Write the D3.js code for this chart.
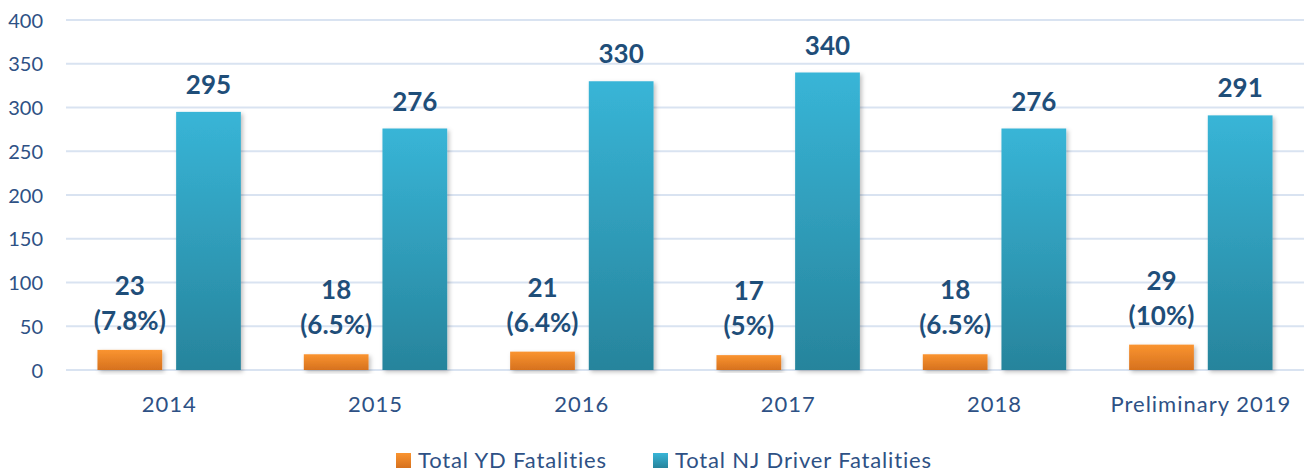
<!DOCTYPE html>
<html>
<head>
<meta charset="utf-8">
<script src="https://cdn.jsdelivr.net/npm/d3@7"></script>
<style>
  html, body { margin: 0; padding: 0; background: #ffffff; }
  svg { display: block; }
  text { font-family: Lato, "Open Sans", sans-serif; }
</style>
</head>
<body>
<svg id="chart" width="1312" height="472"></svg>
<script>
// Young driver (YD) fatalities vs. all NJ driver fatalities, by year
const categories = ["2014", "2015", "2016", "2017", "2018", "Preliminary 2019"];
const seriesNames = ["Total YD Fatalities", "Total NJ Driver Fatalities"];
const ydFatalities = [23, 18, 21, 17, 18, 29];
const ydShare = ["(7.8%)", "(6.5%)", "(6.4%)", "(5%)", "(6.5%)", "(10%)"];
const njFatalities = [295, 276, 330, 340, 276, 291];
const yTicks = [0, 50, 100, 150, 200, 250, 300, 350, 400];

const svg = d3.select("#chart");
const plotLeft = 66, plotRight = 1304, plotTop = 20, plotBottom = 370;

const labelColor = "#1F4E79";
const tickColor = "#2E5185";

// gradients and shadow
const defs = svg.append("defs");
function grad(id, c0, c1) {
  const g = defs.append("linearGradient").attr("id", id)
    .attr("x1", 0).attr("y1", 0).attr("x2", 0).attr("y2", 1);
  g.append("stop").attr("offset", "0%").attr("stop-color", c0);
  g.append("stop").attr("offset", "100%").attr("stop-color", c1);
}
grad("gOrange", "#FA9430", "#D6711E");
grad("gBlue", "#38B5D7", "#27849C");
const f = defs.append("filter").attr("id", "shadow")
  .attr("x", "-10%").attr("y", "-10%").attr("width", "130%").attr("height", "130%");
f.append("feDropShadow").attr("dx", 2).attr("dy", 2).attr("stdDeviation", 2)
  .attr("flood-color", "#000").attr("flood-opacity", 0.25);

const x0 = d3.scaleBand().domain(categories).range([plotLeft, plotRight]).padding(0);
const x1 = d3.scaleBand().domain(seriesNames).range([0, x0.bandwidth()])
  .paddingInner(0.177).paddingOuter(0.4);
const y = d3.scaleLinear().domain([0, 400]).range([plotBottom, plotTop]);

// horizontal gridlines
svg.append("g").selectAll("line").data(yTicks).join("line")
  .attr("x1", plotLeft).attr("x2", plotRight)
  .attr("y1", d => y(d)).attr("y2", d => y(d))
  .attr("stroke", "#D9E3F1").attr("stroke-width", 2);

// y axis labels
const yAxis = d3.axisLeft(y).tickValues(yTicks).tickSize(0).tickPadding(0);
const gy = svg.append("g").attr("transform", "translate(43,0)").call(yAxis);
gy.select(".domain").remove();
gy.selectAll("text").attr("fill", tickColor).attr("font-size", 20)
  .attr("font-family", "Lato, sans-serif").attr("dy", "0.35em");

// x axis labels
const xAxis = d3.axisBottom(x0).tickSize(0).tickPadding(0);
const gx = svg.append("g").attr("transform", "translate(0,396)").call(xAxis);
gx.select(".domain").remove();
gx.selectAll("text").attr("fill", tickColor).attr("font-size", 22)
  .attr("letter-spacing", 1)
  .attr("font-family", "Lato, sans-serif").attr("dy", "0.72em");

// bars
const rows = categories.map((c, i) => ({
  cat: c, yd: ydFatalities[i], share: ydShare[i], nj: njFatalities[i]
}));

const groups = svg.append("g").selectAll("g").data(rows).join("g")
  .attr("transform", d => `translate(${x0(d.cat)},0)`);

groups.append("rect")
  .attr("x", x1(seriesNames[0])).attr("width", x1.bandwidth())
  .attr("y", d => y(d.yd)).attr("height", d => y(0) - y(d.yd))
  .attr("fill", "url(#gOrange)").attr("filter", "url(#shadow)");

groups.append("rect")
  .attr("x", x1(seriesNames[1])).attr("width", x1.bandwidth())
  .attr("y", d => y(d.nj)).attr("height", d => y(0) - y(d.nj))
  .attr("fill", "url(#gBlue)").attr("filter", "url(#shadow)");

// value labels
const bold = { "font-size": 26, "font-weight": "bold", "fill": labelColor, "text-anchor": "middle" };
function style(sel) { Object.entries(bold).forEach(([k, v]) => sel.attr(k, v)); return sel; }

style(groups.append("text"))
  .attr("x", x1(seriesNames[1]) + x1.bandwidth() / 2)
  .attr("y", d => y(d.nj) - 18)
  .text(d => d.nj);

style(groups.append("text"))
  .attr("x", x1(seriesNames[0]) + x1.bandwidth() / 2)
  .attr("y", d => y(d.yd) - 20)
  .text(d => d.share);

style(groups.append("text"))
  .attr("x", x1(seriesNames[0]) + x1.bandwidth() / 2)
  .attr("y", d => y(d.yd) - 55)
  .text(d => d.yd);

// legend
const legendItems = [
  { name: seriesNames[0], fill: "url(#gOrange)", sx: 396, tx: 418 },
  { name: seriesNames[1], fill: "url(#gBlue)", sx: 653, tx: 675 }
];
const lg = svg.append("g");
lg.selectAll("rect").data(legendItems).join("rect")
  .attr("x", d => d.sx).attr("y", 453).attr("width", 15).attr("height", 15)
  .attr("fill", d => d.fill);
lg.selectAll("text").data(legendItems).join("text")
  .attr("x", d => d.tx).attr("y", 468)
  .attr("fill", tickColor).attr("font-size", 22).attr("letter-spacing", 0.85)
  .text(d => d.name);
</script>
</body>
</html>
